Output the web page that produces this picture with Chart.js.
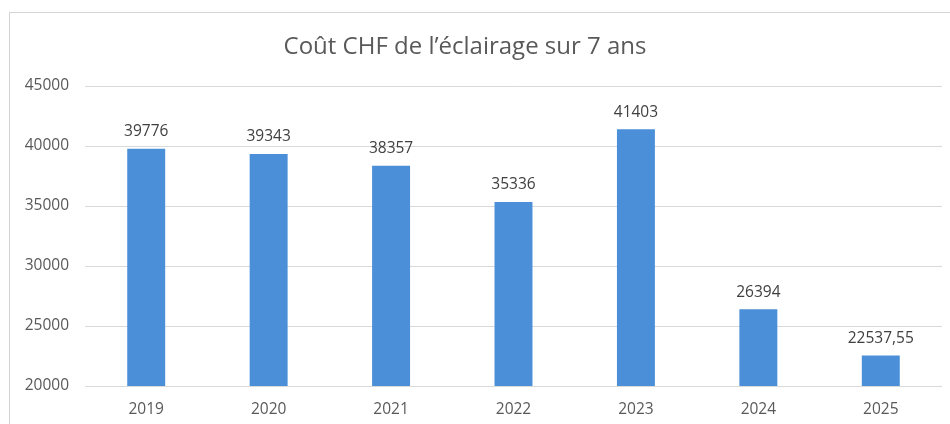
<!DOCTYPE html>
<html>
<head>
<meta charset="utf-8">
<script src="https://cdn.jsdelivr.net/npm/chart.js@4"></script>
<style>
  html, body { margin: 0; padding: 0; background: #ffffff; }
  #wrap { width: 950px; height: 424px; position: relative; }
</style>
</head>
<body>
<div id="wrap"><canvas id="chart" width="950" height="424"></canvas></div>
<script>
// Chart data
const years = ["2019", "2020", "2021", "2022", "2023", "2024", "2025"];
const costs = [39776, 39343, 38357, 35336, 41403, 26394, 22537.55];
const yTicks = [20000, 25000, 30000, 35000, 40000, 45000];
const chartTitle = "Coût CHF de l’éclairage sur 7 ans";

const FONT = "'Open Sans', 'Noto Sans', sans-serif";
const TEXT_GREY = "#595959";

function formatValue(v) {
  // French style decimal comma
  return Number.isInteger(v) ? String(v) : v.toFixed(2).replace(".", ",");
}

// Frame + title drawn behind the chart
const frameAndTitle = {
  id: "frameAndTitle",
  beforeDraw(chart) {
    const ctx = chart.ctx;
    ctx.save();
    ctx.strokeStyle = "#d4d4d4";
    ctx.lineWidth = 1;
    ctx.strokeRect(9.5, 12.5, 960, 440);
    ctx.fillStyle = TEXT_GREY;
    ctx.font = "24px " + FONT;
    ctx.textAlign = "center";
    ctx.textBaseline = "middle";
    ctx.fillText(chartTitle, 465, 47);
    ctx.restore();
  },
};

// Value labels above each bar
const valueLabels = {
  id: "valueLabels",
  afterDatasetsDraw(chart) {
    const ctx = chart.ctx;
    const meta = chart.getDatasetMeta(0);
    ctx.save();
    ctx.fillStyle = "#404040";
    ctx.font = "15.5px " + FONT;
    ctx.textAlign = "center";
    ctx.textBaseline = "middle";
    meta.data.forEach((bar, i) => {
      ctx.fillText(formatValue(costs[i]), bar.x, bar.y - 17);
    });
    ctx.restore();
  },
};

new Chart(document.getElementById("chart").getContext("2d"), {
  type: "bar",
  data: {
    labels: years,
    datasets: [
      {
        data: costs,
        backgroundColor: "#4a8fd8",
        borderWidth: 0,
        barPercentage: 0.31,
        categoryPercentage: 1,
      },
    ],
  },
  options: {
    responsive: false,
    animation: false,
    layout: { padding: { top: 86, left: 0, right: 8, bottom: 0 } },
    plugins: {
      legend: { display: false },
      title: { display: false },
      tooltip: { enabled: false },
    },
    scales: {
      x: {
        grid: { display: false, drawTicks: false },
        border: { display: false },
        ticks: {
          color: TEXT_GREY,
          font: { family: FONT, size: 15.5 },
          padding: 14,
        },
        afterFit(scale) {
          scale.height = 38;
        },
      },
      y: {
        min: 20000,
        max: 45000,
        afterBuildTicks(scale) {
          scale.ticks = yTicks.map((v) => ({ value: v }));
        },
        grid: { color: "#d9d9d9", lineWidth: 1, drawTicks: false },
        border: { display: false },
        ticks: {
          color: TEXT_GREY,
          font: { family: FONT, size: 15.5 },
          padding: 16,
          callback: (v) => String(v),
        },
        afterFit(scale) {
          scale.width = 85;
        },
      },
    },
  },
  plugins: [frameAndTitle, valueLabels],
});
</script>
</body>
</html>
